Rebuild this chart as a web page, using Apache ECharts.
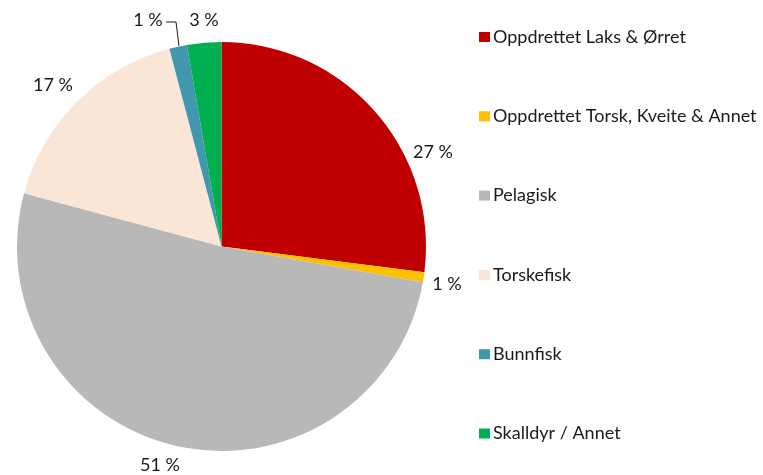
<!DOCTYPE html>
<html>
<head>
<meta charset="utf-8">
<script src="https://cdn.jsdelivr.net/npm/echarts@6/dist/echarts.min.js"></script>
<style>
  html, body { margin: 0; padding: 0; background: #fff; }
  #main { width: 763px; height: 475px; }
</style>
</head>
<body>
<div id="main"></div>
<script>
  // andeler (prosent) lest av figuren
  var categories = ['Oppdrettet Laks & Ørret', 'Oppdrettet Torsk, Kveite & Annet', 'Pelagisk', 'Torskefisk', 'Bunnfisk', 'Skalldyr / Annet'];
  var shares = [27.0, 0.8, 51.4, 16.7, 1.4, 2.7];
  var colors = ['#C00000', '#FFC000', '#B8B8B8', '#F9E6D7', '#4197AD', '#00B050'];

  // hvor etikettene står (sentrum, px)
  var labelPos = [[433, 152], [447, 284], [160, 465], [53, 85], [148, 20], [204, 20]];

  var chart = echarts.init(document.getElementById('main'));
  var option = {
    color: colors,
    animation: false,
    textStyle: { fontFamily: 'Lato' },
    legend: {
      orient: 'vertical',
      left: 474,
      top: 23,
      itemWidth: 11,
      itemHeight: 10,
      itemGap: 61.3,
      icon: 'rect',
      textStyle: { fontSize: 18, color: '#1a1a1a', padding: [0, 0, 0, -2] },
      data: categories
    },
    series: [{
      type: 'pie',
      center: [221.5, 246.5],
      radius: [0, 204.5],
      startAngle: 90,
      clockwise: true,
      avoidLabelOverlap: false,
      label: {
        show: true,
        position: 'outside',
        fontSize: 18,
        color: '#1a1a1a',
        formatter: function (p) { return Math.round(p.value) + ' %'; }
      },
      labelLine: { show: false },
      labelLayout: function (p) {
        var pos = labelPos[p.dataIndex];
        var out = { x: pos[0], y: pos[1], align: 'center', verticalAlign: 'middle' };
        if (p.dataIndex === 4) {
          out.labelLinePoints = [[166, 22], [176, 22], [179, 46]];
        }
        return out;
      },
      data: categories.map(function (c, i) {
        var d = { name: c, value: shares[i] };
        if (i === 4) {
          d.labelLine = { show: true, lineStyle: { color: '#1a1a1a', width: 1 } };
        }
        return d;
      })
    }]
  };
  chart.setOption(option);
</script>
</body>
</html>
